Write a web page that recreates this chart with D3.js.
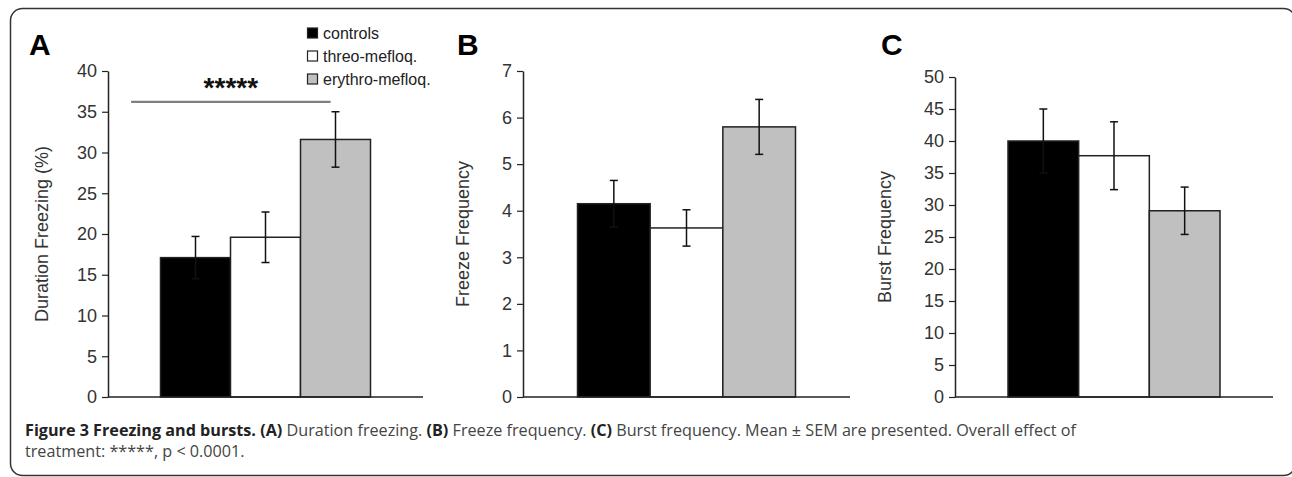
<!DOCTYPE html>
<html>
<head>
<meta charset="UTF-8" />
<title>Freezing and bursts</title>
<script src="https://cdn.jsdelivr.net/npm/d3@7"></script>
<style>
    body {
        margin: 0;
        background-color: #fff;
    }
    svg text {
        font-family: 'Liberation Sans', Arial, sans-serif;
    }
    svg .caption text {
        font-family: 'Open Sans', sans-serif;
        fill: #444;
    }
    svg .caption tspan.b {
        font-weight: bold;
        fill: #222;
    }
</style>
</head>
<body>
<svg id="fig" width="1292" height="477"></svg>
<script>
    var groups = ["controls", "threo-mefloq.", "erythro-mefloq."];
    var fills = ["#000000", "#ffffff", "#c0c0c0"];

    // values (mean, SEM)
    var durationMean = [17.1, 19.6, 31.6];
    var durationSem = [2.6, 3.1, 3.4];
    var freezeMean = [4.15, 3.63, 5.8];
    var freezeSem = [0.5, 0.39, 0.59];
    var burstMean = [40.0, 37.7, 29.1];
    var burstSem = [5.0, 5.3, 3.7];

    var durationTicks = [0, 5, 10, 15, 20, 25, 30, 35, 40];
    var freezeTicks = [0, 1, 2, 3, 4, 5, 6, 7];
    var burstTicks = [0, 5, 10, 15, 20, 25, 30, 35, 40, 45, 50];

    var sigValue = 36.2;       // level of the significance bar in panel A
    var sigLabel = "*****";

    var svg = d3.select("#fig");
    var bottom = 397;

    // outer frame
    svg.append("rect")
        .attr("x", 10.5).attr("y", 8.5)
        .attr("width", 1285).attr("height", 467)
        .attr("rx", 12)
        .attr("fill", "none")
        .attr("stroke", "#333")
        .attr("stroke-width", 1.5);

    var panels = [
        {letter: "A", title: "Duration Freezing (%)", mean: durationMean, sem: durationSem,
         ticks: durationTicks, left: 108, right: 423, top: 71, letterX: 29, titleX: 42},
        {letter: "B", title: "Freeze Frequency", mean: freezeMean, sem: freezeSem,
         ticks: freezeTicks, left: 523, right: 850, top: 71, letterX: 457, titleX: 463},
        {letter: "C", title: "Burst Frequency", mean: burstMean, sem: burstSem,
         ticks: burstTicks, left: 955, right: 1273, top: 77, letterX: 881, titleX: 885}
    ];

    panels.forEach(function(p, pi){
        var y = d3.scaleLinear()
            .domain([0, d3.max(p.ticks)])
            .range([bottom, p.top]);

        var x = d3.scaleBand()
            .domain(groups)
            .range([p.left, p.right])
            .paddingInner(0)
            .paddingOuter(0.75);

        var g = svg.append("g");

        // bars
        g.selectAll("rect.bar")
            .data(groups)
            .enter().append("rect")
            .attr("class", "bar")
            .attr("x", function(d){ return x(d); })
            .attr("y", function(d, i){ return y(p.mean[i]); })
            .attr("width", x.bandwidth())
            .attr("height", function(d, i){ return bottom - y(p.mean[i]); })
            .attr("fill", function(d, i){ return fills[i]; })
            .attr("stroke", "#222")
            .attr("stroke-width", 1.5);

        // error bars
        var err = g.selectAll("g.err")
            .data(groups)
            .enter().append("g")
            .attr("class", "err")
            .attr("stroke", "#111")
            .attr("stroke-width", 1.5);

        var cx = function(d){ return x(d) + x.bandwidth() / 2; };
        err.append("line")
            .attr("x1", cx).attr("x2", cx)
            .attr("y1", function(d, i){ return y(p.mean[i] - p.sem[i]); })
            .attr("y2", function(d, i){ return y(p.mean[i] + p.sem[i]); });
        [-1, 1].forEach(function(s){
            err.append("line")
                .attr("x1", function(d){ return cx(d) - 4; })
                .attr("x2", function(d){ return cx(d) + 4; })
                .attr("y1", function(d, i){ return y(p.mean[i] + s * p.sem[i]); })
                .attr("y2", function(d, i){ return y(p.mean[i] + s * p.sem[i]); });
        });

        // y axis
        var yAxis = d3.axisLeft(y)
            .tickValues(p.ticks)
            .tickFormat(d3.format("d"))
            .tickSize(6)
            .tickSizeOuter(0)
            .tickPadding(5);

        var ag = g.append("g")
            .attr("transform", "translate(" + p.left + ",0)")
            .call(yAxis);
        ag.attr("font-family", null).attr("font-size", null);
        ag.select(".domain").attr("stroke", "#222").attr("stroke-width", 1.5);
        ag.selectAll(".tick line").attr("stroke", "#222").attr("stroke-width", 1.2);
        ag.selectAll(".tick text")
            .attr("fill", "#333")
            .style("font-size", "18px");

        // x baseline
        g.append("line")
            .attr("x1", p.left).attr("x2", p.right)
            .attr("y1", bottom).attr("y2", bottom)
            .attr("stroke", "#222")
            .attr("stroke-width", 1.5);

        // axis title
        g.append("text")
            .attr("transform", "translate(" + p.titleX + "," + ((bottom + p.top) / 2) + ") rotate(-90)")
            .attr("text-anchor", "middle")
            .attr("dy", "0.35em")
            .attr("fill", "#333")
            .style("font-size", "18px")
            .text(p.title);

        // panel letter
        g.append("text")
            .attr("x", p.letterX)
            .attr("y", 55)
            .attr("fill", "#000")
            .style("font-size", "30px")
            .style("font-weight", "bold")
            .text(p.letter);

        if (pi === 0) {
            // significance bar
            var step = x.step();
            var sx1 = x(groups[0]) - 0.42 * step;
            var sx2 = x(groups[2]) + 0.43 * step;
            g.append("line")
                .attr("x1", sx1).attr("x2", sx2)
                .attr("y1", y(sigValue)).attr("y2", y(sigValue))
                .attr("stroke", "#808080")
                .attr("stroke-width", 2.2);
            g.append("text")
                .attr("x", (sx1 + sx2) / 2)
                .attr("y", y(sigValue) - 5)
                .attr("text-anchor", "middle")
                .attr("fill", "#111")
                .style("font-size", "28px")
                .style("font-weight", "bold")
                .text(sigLabel);

            // legend
            var leg = g.selectAll("g.leg")
                .data(groups)
                .enter().append("g")
                .attr("class", "leg")
                .attr("transform", function(d, i){ return "translate(307," + (33 + i * 23) + ")"; });
            leg.append("rect")
                .attr("x", 0.5).attr("y", -5)
                .attr("width", 10).attr("height", 10)
                .attr("fill", function(d, i){ return fills[i]; })
                .attr("stroke", "#222")
                .attr("stroke-width", 1.2);
            leg.append("text")
                .attr("x", 16)
                .attr("dy", "0.35em")
                .attr("fill", "#222")
                .style("font-size", "16px")
                .text(function(d){ return d; });
        }
    });

    // caption
    var cap = svg.append("g").attr("class", "caption");
    var line1 = cap.append("text").attr("x", 25).attr("y", 436).style("font-size", "15px");
    var parts1 = [
        ["Figure 3 Freezing and bursts.", true], [" ", false],
        ["(A)", true], [" Duration freezing. ", false],
        ["(B)", true], [" Freeze frequency. ", false],
        ["(C)", true], [" Burst frequency. Mean \u00b1 SEM are presented. Overall effect of", false]
    ];
    parts1.forEach(function(t){
        line1.append("tspan").attr("class", t[1] ? "b" : null).text(t[0]);
    });
    var line2 = cap.append("text").attr("x", 25).attr("y", 457).style("font-size", "15px")
        .text("treatment: *****, p < 0.0001.");

    // fit caption width to the figure's column
    var w = line1.node().getComputedTextLength();
    var fs = 15 * 1052 / w;
    line1.style("font-size", fs + "px");
    line2.style("font-size", fs + "px");
</script>
</body>
</html>
